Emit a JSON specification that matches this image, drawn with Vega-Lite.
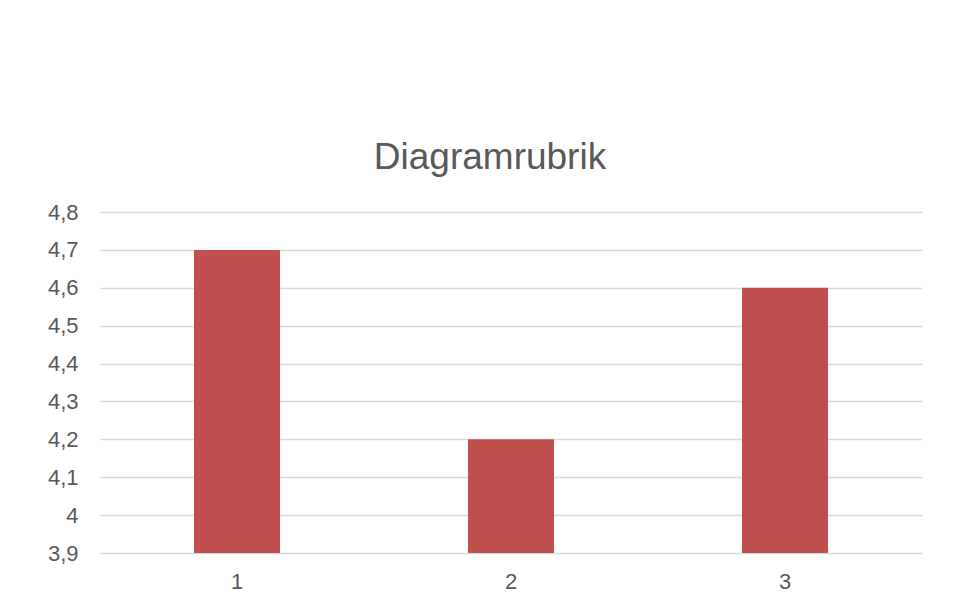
{
  "$schema": "https://vega.github.io/schema/vega-lite/v6.json",
  "width": 822,
  "height": 341,
  "autosize": {"type": "none"},
  "padding": {"left": 100, "top": 212, "right": 47, "bottom": 55},
  "background": "white",
  "title": {
    "text": "Diagramrubrik",
    "font": "Liberation Sans",
    "fontSize": 37,
    "fontWeight": "normal",
    "color": "#595959",
    "anchor": "middle",
    "dx": -21,
    "offset": 24
  },
  "data": {
    "values": [
      {"kategori": "1", "varde": 4.7},
      {"kategori": "2", "varde": 4.2},
      {"kategori": "3", "varde": 4.6}
    ]
  },
  "mark": {"type": "bar", "color": "#C0504D"},
  "encoding": {
    "x": {
      "field": "kategori",
      "type": "ordinal",
      "scale": {"paddingInner": 0.686, "paddingOuter": 0.343},
      "axis": {
        "title": null,
        "labelAngle": 0,
        "domain": false,
        "ticks": false,
        "labelPadding": 18,
        "labelFont": "Liberation Sans",
        "labelFontSize": 22,
        "labelColor": "#595959"
      }
    },
    "y": {
      "field": "varde",
      "type": "quantitative",
      "scale": {"domain": [3.9, 4.8], "zero": false, "nice": false},
      "axis": {
        "title": null,
        "values": [3.9, 4.0, 4.1, 4.2, 4.3, 4.4, 4.5, 4.6, 4.7, 4.8],
        "labelExpr": "replace(format(datum.value, '.1~f'), '.', ',')",
        "domain": false,
        "ticks": false,
        "grid": true,
        "gridColor": "#D9D9D9",
        "gridWidth": 1.5,
        "labelPadding": 22,
        "labelFont": "Liberation Sans",
        "labelFontSize": 22,
        "labelColor": "#595959"
      }
    },
    "y2": {"datum": 3.9}
  },
  "config": {
    "view": {"stroke": null},
    "axisX": {"grid": false}
  }
}
